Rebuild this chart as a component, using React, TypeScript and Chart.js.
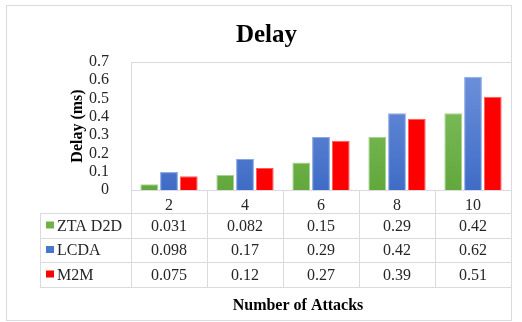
import React, { useEffect, useRef } from "react";
import { Chart, registerables } from "chart.js";

Chart.register(...registerables);

const categories = ["2", "4", "6", "8", "10"];
const seriesNames = ["ZTA D2D", "LCDA", "M2M"];
const ztaD2D = [0.031, 0.082, 0.15, 0.29, 0.42];
const lcda = [0.098, 0.17, 0.29, 0.42, 0.62];
const m2m = [0.075, 0.12, 0.27, 0.39, 0.51];
const seriesLabels = [
  ["0.031", "0.082", "0.15", "0.29", "0.42"],
  ["0.098", "0.17", "0.29", "0.42", "0.62"],
  ["0.075", "0.12", "0.27", "0.39", "0.51"],
];
const seriesSolid = ["#70b048", "#4a77cc", "#ff0000"];

const SERIF = '"Liberation Serif", "Times New Roman", serif';
const LINE = "#d9dbe0";

function grad(top: string, bottom: string, fallback: string) {
  return (c: any) => {
    const chart = c.chart;
    const ca = chart.chartArea;
    if (!ca) return fallback;
    const g = chart.ctx.createLinearGradient(0, ca.top, 0, ca.bottom);
    g.addColorStop(0, top);
    g.addColorStop(1, bottom);
    return g;
  };
}

const tablePlugin = {
  id: "tablePlugin",
  beforeDraw(chart: any) {
    const ctx = chart.ctx;
    ctx.save();
    ctx.fillStyle = "#ffffff";
    ctx.fillRect(0, 0, chart.width, chart.height);
    ctx.strokeStyle = LINE;
    ctx.lineWidth = 1;
    ctx.strokeRect(6.5, 5.5, 505, 315);
    ctx.restore();
  },
  afterDraw(chart: any) {
    const ctx = chart.ctx;
    const ca = chart.chartArea;
    const xs = chart.scales.x;
    const left = ca.left;
    const right = ca.right;
    const zero = ca.bottom;
    const rowTops = [zero + 23, zero + 48, zero + 72, zero + 97];
    const legendLeft = 40;
    ctx.save();
    ctx.strokeStyle = LINE;
    ctx.lineWidth = 1;
    const line = (x1: number, y1: number, x2: number, y2: number) => {
      ctx.beginPath();
      ctx.moveTo(x1, y1);
      ctx.lineTo(x2, y2);
      ctx.stroke();
    };
    // plot box
    line(left, Math.round(ca.top) + 0.5, right, Math.round(ca.top) + 0.5);
    line(Math.round(right) + 0.5, ca.top, Math.round(right) + 0.5, rowTops[3]);
    line(Math.round(left) + 0.5, ca.top, Math.round(left) + 0.5, rowTops[3]);
    line(left, Math.round(zero) + 0.5, right, Math.round(zero) + 0.5);
    // column dividers
    for (let i = 0; i < categories.length - 1; i++) {
      const x = Math.round((xs.getPixelForValue(i) + xs.getPixelForValue(i + 1)) / 2) + 0.5;
      line(x, zero, x, rowTops[3]);
    }
    // rows
    rowTops.forEach((y) => line(legendLeft, Math.round(y) + 0.5, right, Math.round(y) + 0.5));
    line(legendLeft + 0.5, rowTops[0], legendLeft + 0.5, rowTops[3]);

    ctx.font = "16px " + SERIF;
    ctx.textBaseline = "middle";
    for (let r = 0; r < 3; r++) {
      const cy = (rowTops[r] + rowTops[r + 1]) / 2;
      ctx.fillStyle = seriesSolid[r];
      ctx.fillRect(46, cy - 4, 8, 7);
      ctx.fillStyle = "#262626";
      ctx.textAlign = "left";
      ctx.fillText(seriesNames[r], 57, cy + 1);
      ctx.textAlign = "center";
      for (let i = 0; i < categories.length; i++) {
        ctx.fillText(seriesLabels[r][i], xs.getPixelForValue(i), cy + 1);
      }
    }
    ctx.font = "bold 16px " + SERIF;
    ctx.fillStyle = "#000000";
    ctx.textAlign = "center";
    ctx.fillText("Number of Attacks", 298, 306);
    ctx.restore();
  },
};

export default function App() {
  const ref = useRef<HTMLCanvasElement | null>(null);
  useEffect(() => {
    document.body.style.margin = "0";
    const chart = new Chart(ref.current as HTMLCanvasElement, {
      type: "bar",
      data: {
        labels: categories,
        datasets: [
          {
            label: seriesNames[0],
            data: ztaD2D,
            backgroundColor: grad("#86c466", "#62a83c", seriesSolid[0]),
            borderColor: "#a6d48e",
            borderWidth: 1,
          },
          {
            label: seriesNames[1],
            data: lcda,
            backgroundColor: grad("#7194dc", "#3f6cc6", seriesSolid[1]),
            borderColor: "#8fa9e3",
            borderWidth: 1,
          },
          {
            label: seriesNames[2],
            data: m2m,
            backgroundColor: "#ff0000",
            borderColor: "#ff5a5a",
            borderWidth: 1,
          },
        ],
      },
      options: {
        responsive: false,
        animation: false,
        layout: { padding: { left: 22, right: 11, top: 6, bottom: 2 } },
        datasets: { bar: { categoryPercentage: 0.78, barPercentage: 0.9 } },
        plugins: {
          legend: { display: false },
          tooltip: { enabled: false },
          title: {
            display: true,
            text: "Delay",
            color: "#000000",
            font: { family: SERIF, size: 25, weight: "bold" },
            padding: { top: 15, bottom: 11 },
          },
        },
        scales: {
          x: {
            grid: { display: false },
            border: { display: false },
            ticks: {
              color: "#262626",
              font: { family: SERIF, size: 16 },
              padding: -2,
              maxRotation: 0,
            },
            afterFit: (s: any) => {
              s.height = 130;
            },
          },
          y: {
            min: 0,
            max: 0.7,
            grid: { display: false },
            border: { display: false },
            ticks: {
              stepSize: 0.1,
              autoSkip: false,
              color: "#262626",
              font: { family: SERIF, size: 16 },
              padding: 14,
              callback: (v: any) => (Math.round(Number(v) * 10) / 10).toString(),
            },
            title: {
              display: true,
              text: "Delay (ms)",
              color: "#000000",
              font: { family: SERIF, size: 16, weight: "bold" },
              padding: { top: 46, bottom: 0 },
            },
            afterFit: (s: any) => {
              s.width = 109;
            },
          },
        },
      },
      plugins: [tablePlugin],
    } as any);
    return () => chart.destroy();
  }, []);
  return (
    <div style={{ position: "absolute", left: 0, top: 0, width: 522, height: 322 }}>
      <canvas ref={ref} width={522} height={322} style={{ width: 522, height: 322 }} />
    </div>
  );
}
